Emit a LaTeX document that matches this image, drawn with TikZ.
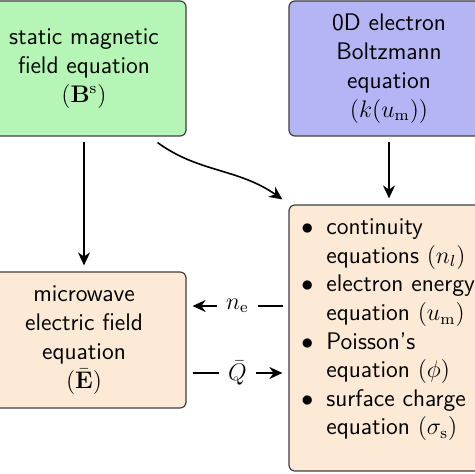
\documentclass[tikz,border=0pt]{standalone}
\usetikzlibrary{arrows.meta}
\definecolor{gfill}{RGB}{181,245,181}
\definecolor{bfill}{RGB}{181,181,245}
\definecolor{ofill}{RGB}{252,233,214}
\definecolor{edgec}{RGB}{64,64,64}
\newcommand{\itm}{\llap{$\bullet$\hspace{6.5pt}}}
\begin{document}
\begin{tikzpicture}[x=0.5pt,y=-0.5pt,
  box/.style={draw=edgec, line width=0.6pt, rounded corners=3pt, inner sep=0pt,
    font=\sffamily\fontsize{12}{14.5}\selectfont, align=center},
  listtxt/.style={font=\sffamily\fontsize{12}{14.3}\selectfont, align=left, inner sep=0pt},
  arr/.style={-{Stealth[length=6.5pt,width=6pt]}, line width=0.8pt},
  lab/.style={fill=white, inner xsep=4.5pt, inner ysep=1pt, font=\fontsize{12}{14.5}\selectfont},
]
\fill[white] (0,0) rectangle (474,474);
\useasboundingbox (0,0) rectangle (474,474);
\node[box, fill=gfill, minimum width=102pt, minimum height=67.5pt] (green) at (84,68.5)
  {static magnetic\\ field equation\\ $(\mathbf{B}^{\mathrm{s}})$};
\node[box, fill=bfill, minimum width=100pt, minimum height=67.5pt] (blue) at (389,68.5)
  {0D electron\\ Boltzmann\\ equation\\ $(k(u_{\mathrm{m}}))$};
\node[box, fill=ofill, minimum width=102pt, minimum height=68pt] (lbox) at (84,340)
  {microwave\\ electric field\\ equation\\ $(\bar{\mathbf{E}})$};
\node[box, fill=ofill, minimum width=100pt, minimum height=133pt] (rbox) at (389,338) {};
\node[listtxt, anchor=west] (rtext) at (326,330)
  {\itm continuity\\ equations $(n_l)$\\ \itm electron energy\\ equation $(u_{\mathrm{m}})$\\
   \itm Poisson's\\ equation $(\phi)$\\ \itm surface charge\\ equation $(\sigma_{\mathrm{s}})$};
\coordinate (ney) at (0,306);
\coordinate (qy) at (0,373);
\draw[arr, shorten <=2.5pt, shorten >=3pt] (green.south) -- (lbox.north);
\draw[arr, shorten <=2.5pt, shorten >=3pt] (blue.south) -- (rbox.north);
\coordinate (cs) at ([xshift=-14.5pt,yshift=-3pt]green.south east);
\coordinate (ce) at ([xshift=-3pt,yshift=2.5pt]rbox.north west);
\draw[arr] (cs) .. controls +(41,30) and +(-44,-31) .. (ce);
\draw[arr, shorten <=2.5pt, shorten >=3pt] (rbox.west |- ney) -- node[lab] (nel) {$n_{\mathrm{e}}$} (lbox.east |- ney);
\draw[arr, shorten <=3pt, shorten >=3pt] (lbox.east |- qy) -- node[lab] (ql) {$\bar{Q}$} (rbox.west |- qy);
\end{tikzpicture}
\end{document}
